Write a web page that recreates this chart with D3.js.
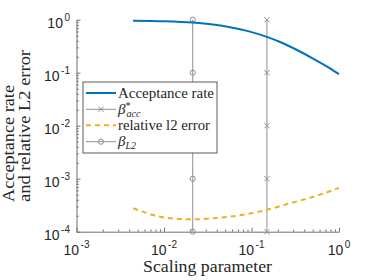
<!DOCTYPE html>
<html>
<head>
<meta charset="utf-8">
<script src="https://cdn.jsdelivr.net/npm/d3@7"></script>
<style>
  body { margin: 0; background: #fff; }
  svg { display: block; }
</style>
</head>
<body>
<svg width="374" height="280"></svg>
<script>
// acceptance rate vs scaling parameter
var scaleAcc = [0.00443, 0.01, 0.0214, 0.0363, 0.0568, 0.0889, 0.150, 0.212, 0.331, 0.505, 0.789, 1.0];
var accRate  = [0.96, 0.936, 0.881, 0.809, 0.723, 0.615, 0.473, 0.379, 0.268, 0.185, 0.121, 0.094];

// relative l2 error
var scaleErr = [0.00446, 0.00748, 0.0117, 0.0207, 0.0363, 0.0678, 0.149, 0.252, 0.428, 0.607, 1.0];
var relErr   = [2.77e-4, 2.07e-4, 1.79e-4, 1.71e-4, 1.79e-4, 2.0e-4, 2.57e-4, 3.3e-4, 4.2e-4, 5.0e-4, 6.7e-4];

// the two chosen parameters, drawn as stems of markers
var betaAcc = 0.15;
var betaL2 = 0.0213;
var stemLevels = [1, 0.1, 0.01, 0.001, 0.0001];

var xTicks = [1e-3, 1e-2, 1e-1, 1];
var xTickExp = ["-3", "-2", "-1", "0"];
var yTicks = [1e-4, 1e-3, 1e-2, 1e-1, 1];
var yTickExp = ["-4", "-3", "-2", "-1", "0"];

var svg = d3.select("svg");
var pLeft = 76.5, pRight = 339, pTop = 19.7, pBottom = 231.7;

var x = d3.scaleLog().domain([1e-3, 1]).range([pLeft, pRight]);
var y = d3.scaleLog().domain([1e-4, 1]).range([pBottom, pTop]);

var axisColor = "#6e6e6e";
var textColor = "#262626";
var serif = "Liberation Serif, Times New Roman, serif";
var sans = "Liberation Sans, Arial, sans-serif";

// minor tick positions
function minors(lo, hi) {
    var out = [];
    for (var e = lo; e < hi; e++) {
        for (var k = 2; k <= 9; k++) out.push(k * Math.pow(10, e));
    }
    return out;
}

var gx = svg.append("g").attr("transform", "translate(0," + pBottom + ")");
gx.call(d3.axisBottom(x).tickValues(xTicks).tickSizeInner(-4).tickSizeOuter(0).tickFormat(""));
gx.append("g").call(d3.axisBottom(x).tickValues(minors(-3, 0)).tickSizeInner(-2.2).tickSizeOuter(0).tickFormat(""))
  .select(".domain").remove();

var gy = svg.append("g").attr("transform", "translate(" + pLeft + ",0)");
gy.call(d3.axisLeft(y).tickValues(yTicks).tickSizeInner(-4).tickSizeOuter(0).tickFormat(""));
gy.append("g").call(d3.axisLeft(y).tickValues(minors(-4, 0)).tickSizeInner(-2.2).tickSizeOuter(0).tickFormat(""))
  .select(".domain").remove();

svg.selectAll(".domain, .tick line").attr("stroke", axisColor).attr("stroke-width", 1);

// tick labels 10^n
xTicks.forEach(function(v, i) {
    var t = svg.append("text")
        .attr("x", x(v)).attr("y", 255)
        .attr("text-anchor", "middle")
        .attr("font-family", sans)
        .attr("font-size", 14).attr("fill", textColor);
    t.append("tspan").text("10");
    t.append("tspan").attr("font-size", 10).attr("dy", -7).attr("dx", 1.5).text(xTickExp[i]);
});
yTicks.forEach(function(v, i) {
    var t = svg.append("text")
        .attr("x", 70).attr("y", y(v) + 8.5)
        .attr("text-anchor", "end")
        .attr("font-family", sans)
        .attr("font-size", 14).attr("fill", textColor);
    t.append("tspan").text("10");
    t.append("tspan").attr("font-size", 10).attr("dy", -7).attr("dx", 1.5).text(yTickExp[i]);
});

// axis titles
svg.append("text")
    .attr("x", 143).attr("y", 272)
    .attr("font-family", serif)
    .attr("font-size", 17).attr("fill", textColor)
    .attr("textLength", 129).attr("lengthAdjust", "spacingAndGlyphs")
    .text("Scaling parameter");
svg.append("text")
    .attr("transform", "translate(14,202) rotate(-90)")
    .attr("font-family", serif)
    .attr("font-size", 17).attr("fill", textColor)
    .attr("textLength", 117).attr("lengthAdjust", "spacingAndGlyphs")
    .text("Acceptance rate");
svg.append("text")
    .attr("transform", "translate(30,202) rotate(-90)")
    .attr("font-family", serif)
    .attr("font-size", 17).attr("fill", textColor)
    .attr("textLength", 152).attr("lengthAdjust", "spacingAndGlyphs")
    .text("and relative L2 error");

var stemColor = "#8f8f8f";

function crossMark(g, cx, cy, r) {
    g.append("path")
        .attr("d", "M" + (cx - r) + "," + (cy - r) + "L" + (cx + r) + "," + (cy + r) +
                   "M" + (cx - r) + "," + (cy + r) + "L" + (cx + r) + "," + (cy - r))
        .attr("stroke", stemColor).attr("stroke-width", 1).attr("fill", "none");
}
function circleMark(g, cx, cy, r) {
    g.append("circle").attr("cx", cx).attr("cy", cy).attr("r", r)
        .attr("stroke", stemColor).attr("stroke-width", 1).attr("fill", "none");
}

// stems
var stems = svg.append("g");
[[betaAcc, crossMark], [betaL2, circleMark]].forEach(function(s) {
    stems.append("line")
        .attr("x1", x(s[0])).attr("x2", x(s[0]))
        .attr("y1", y(d3.max(stemLevels))).attr("y2", y(d3.min(stemLevels)))
        .attr("stroke", stemColor).attr("stroke-width", 1);
    stemLevels.forEach(function(v) { s[1](stems, x(s[0]), y(v), 2.6); });
});

// curves
var accData = scaleAcc.map(function(d, i) { return [d, accRate[i]]; });
var errData = scaleErr.map(function(d, i) { return [d, relErr[i]]; });
var line = d3.line()
    .x(function(d) { return x(d[0]); })
    .y(function(d) { return y(d[1]); })
    .curve(d3.curveMonotoneX);

svg.append("path").datum(accData).attr("d", line)
    .attr("fill", "none").attr("stroke", "#0072BD").attr("stroke-width", 2);
svg.append("path").datum(errData).attr("d", line)
    .attr("fill", "none").attr("stroke", "#EDB120").attr("stroke-width", 2)
    .attr("stroke-dasharray", "5,4");

// legend
var leg = svg.append("g");
leg.append("rect").attr("x", 83).attr("y", 82).attr("width", 134).attr("height", 71)
    .attr("fill", "#fff").attr("stroke", "#5a5a5a").attr("stroke-width", 1);
var rowY = [93, 109.3, 125.3, 141.7];

leg.append("line").attr("x1", 86).attr("x2", 116).attr("y1", rowY[0]).attr("y2", rowY[0])
    .attr("stroke", "#0072BD").attr("stroke-width", 2);
leg.append("line").attr("x1", 86).attr("x2", 116).attr("y1", rowY[1]).attr("y2", rowY[1])
    .attr("stroke", stemColor).attr("stroke-width", 1);
crossMark(leg, 101, rowY[1], 2.6);
leg.append("line").attr("x1", 86).attr("x2", 116).attr("y1", rowY[2]).attr("y2", rowY[2])
    .attr("stroke", "#EDB120").attr("stroke-width", 2).attr("stroke-dasharray", "5,4");
leg.append("line").attr("x1", 86).attr("x2", 116).attr("y1", rowY[3]).attr("y2", rowY[3])
    .attr("stroke", stemColor).attr("stroke-width", 1);
circleMark(leg, 101, rowY[3], 2.6);

function legText(yy) {
    return leg.append("text").attr("x", 118).attr("y", yy + 4.5)
        .attr("font-family", serif).attr("font-size", 15).attr("fill", textColor);
}
legText(rowY[0]).attr("textLength", 96).attr("lengthAdjust", "spacingAndGlyphs").text("Acceptance rate");
var t1 = legText(rowY[1]);
t1.append("tspan").attr("font-style", "italic").text("β");
t1.append("tspan").attr("font-size", 10).attr("dy", -5).text("*");
t1.append("tspan").attr("font-size", 10).attr("font-style", "italic").attr("dx", -4).attr("dy", 8).text("acc");
legText(rowY[2]).attr("textLength", 92).attr("lengthAdjust", "spacingAndGlyphs").text("relative l2 error");
var t3 = legText(rowY[3]);
t3.append("tspan").attr("font-style", "italic").text("β");
t3.append("tspan").attr("font-size", 10).attr("font-style", "italic").attr("dy", 3).text("L2");
</script>
</body>
</html>
